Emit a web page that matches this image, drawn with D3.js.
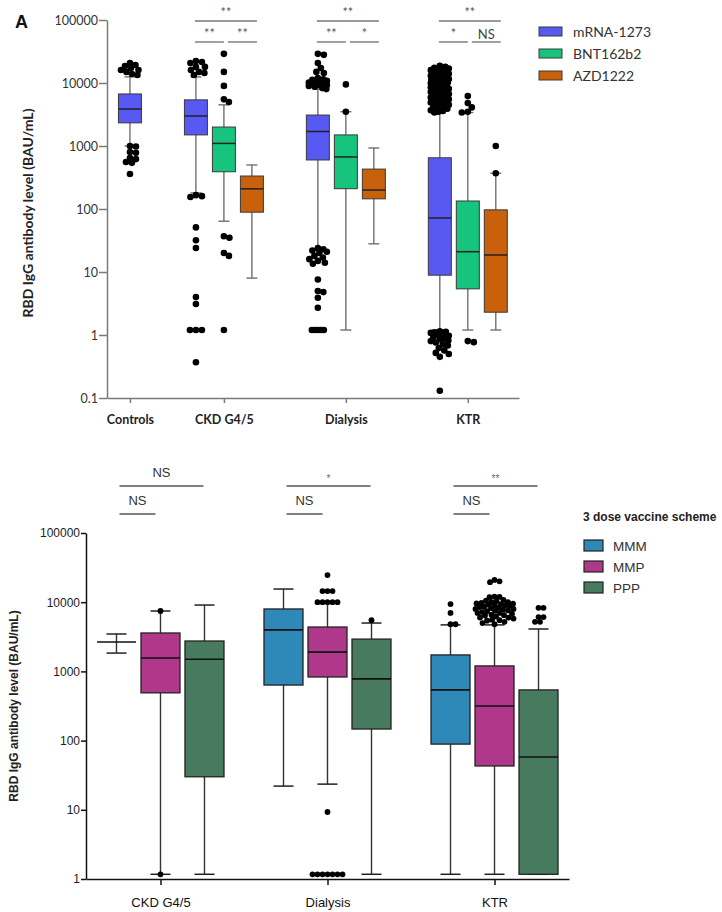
<!DOCTYPE html>
<html><head><meta charset="utf-8">
<script src="https://cdn.jsdelivr.net/npm/d3@7"></script>
<style>body{margin:0;background:#fff}svg{display:block}</style>
</head><body>
<svg id="c" width="722" height="912"></svg>
<script>
// ---------------- DATA : panel A ----------------
const topGroups = ["Controls", "CKD G4/5", "Dialysis", "KTR"];
const topVaccines = ["mRNA-1273", "BNT162b2", "AZD1222"];
const topColors = ["#5858f2", "#16c47d", "#c8600c"];
const topTicks = [0.1, 1, 10, 100, 1000, 10000, 100000];
const topTickLabels = ["0.1", "1", "10", "100", "1000", "10000", "100000"];
const topBoxGroup = ["Controls", "CKD G4/5", "CKD G4/5", "CKD G4/5", "Dialysis", "Dialysis", "Dialysis", "KTR", "KTR", "KTR"];
const topBoxVaccine = ["mRNA-1273", "mRNA-1273", "BNT162b2", "AZD1222", "mRNA-1273", "BNT162b2", "AZD1222", "mRNA-1273", "BNT162b2", "AZD1222"];
const topLow  = [1000, 180, 64, 8.0, 22, 1.2, 28, 1.2, 1.2, 1.2];
const topQ1   = [2330, 1500, 390, 89, 600, 210, 145, 8.9, 5.4, 2.3];
const topMed  = [3860, 2990, 1100, 209, 1700, 670, 200, 72, 21, 18.6];
const topQ3   = [6700, 5400, 2000, 334, 3100, 1500, 430, 650, 134, 97];
const topHigh = [12500, 12500, 4500, 500, 8000, 3500, 930, 3300, 3400, 370];
const topOutliers = [
  [20700, 19300, 18600, 17300, 16100, 16100, 15000, 13900, 13400, 1000, 980, 800, 780, 645, 620, 557, 540, 360],
  [22300, 21500, 20700, 18000, 18000, 16100, 15000, 14400, 13400, 166, 160, 155, 51, 32, 24, 4.0, 3.1, 1.2, 1.2, 1.2, 0.37],
  [29000, 15000, 9000, 5500, 5000, 37, 35, 20, 18, 1.2],
  [],
  [29000, 28000, 20700, 17300, 15000, 14400, 12000, 11500, 11200, 10800, 10500, 10200, 10000, 9800, 9500, 9300, 9300, 9000, 8700, 8300, 8000,
   24, 23, 22, 21, 20, 18, 17, 16, 15, 14, 13.5, 7.6, 5.0, 4.8, 3.9, 2.7, 1.2, 1.2, 1.2, 1.2, 1.2],
  [9500, 3500],
  [],
  [18800, 18000, 17500, 17000, 16500, 16000, 15500, 15000, 14500, 14200, 14000, 13500, 13000, 12800, 12500, 12000, 11600, 11200, 11000, 10800,
   10500, 10200, 10000, 9900, 9700, 9400, 9100, 9000, 8800, 8500, 8200, 8100, 8000, 7700, 7500, 7400, 7200, 7000, 6800, 6700, 6500, 6300,
   6100, 6000, 5900, 5700, 5500, 5400, 5300, 5100, 4900, 4800, 4700, 4500, 4400, 4300, 4100, 4000, 3900, 3700, 3600, 3500, 3400,
   1.15, 1.12, 1.1, 1.08, 1.05, 1.0, 0.97, 0.93, 0.9, 0.86, 0.82, 0.8, 0.76, 0.72, 0.68, 0.62, 0.57, 0.52, 0.5, 0.45, 0.13],
  [6200, 4800, 4100, 3500, 3400, 0.8, 0.77],
  [1000, 370]
];
// significance: [group, first box, last box, row, label]
const topSig = [
  ["CKD G4/5", 0, 2, 0, "**"], ["CKD G4/5", 0, 1, 1, "**"], ["CKD G4/5", 1, 2, 1, "**"],
  ["Dialysis", 0, 2, 0, "**"], ["Dialysis", 0, 1, 1, "**"], ["Dialysis", 1, 2, 1, "*"],
  ["KTR", 0, 2, 0, "**"], ["KTR", 0, 1, 1, "*"], ["KTR", 1, 2, 1, "NS"]
];

// ---------------- DATA : 3-dose panel ----------------
const botGroups = ["CKD G4/5", "Dialysis", "KTR"];
const botSchemes = ["MMM", "MMP", "PPP"];
const botColors = ["#2e89b9", "#b0388a", "#487a60"];
const botTicks = [1, 10, 100, 1000, 10000, 100000];
const botTickLabels = ["1", "10", "100", "1000", "10000", "100000"];
const botBoxGroup = ["CKD G4/5", "CKD G4/5", "CKD G4/5", "Dialysis", "Dialysis", "Dialysis", "KTR", "KTR", "KTR"];
const botBoxScheme = ["MMM", "MMP", "PPP", "MMM", "MMP", "PPP", "MMM", "MMP", "PPP"];
const botLow  = [1840, 1.17, 1.17, 22, 23.5, 1.17, 1.17, 1.17, 1.17];
const botQ1   = [2660, 490, 30, 635, 830, 147, 89, 43, 1.17];
const botMed  = [2660, 1560, 1500, 3980, 1900, 780, 540, 316, 58];
const botQ3   = [2660, 3590, 2750, 7980, 4380, 2930, 1730, 1200, 540];
const botHigh = [3470, 7460, 9100, 15500, 10000, 5000, 4700, 4700, 4100];
const botOutliers = [
  [],
  [7460, 1.17],
  [],
  [],
  [24700, 14500, 14500, 14500, 10000, 10000, 10000, 10000, 10000, 9.3, 1.17, 1.17, 1.17, 1.17, 1.17, 1.17, 1.17],
  [5500],
  [9400, 7000, 4800, 4800],
  [21000, 20000, 19500, 12000, 11900, 11800, 10800, 10500, 10300, 10000, 10000, 9800, 9600, 9500, 9400, 9200, 9000, 9000, 8800, 8600,
   8500, 8400, 8200, 8000, 8000, 7800, 7600, 7500, 7400, 7200, 7000, 7000, 6800, 6600, 6500, 6400, 6200, 6000, 6000, 5800, 5600,
   5500, 5400, 5200, 5000, 4800],
  [8300, 8300, 6100, 6100, 5200, 5200]
];
const botSig = [
  ["CKD G4/5", 0, 2, 0, "NS"], ["CKD G4/5", 0, 1, 1, "NS"],
  ["Dialysis", 0, 2, 0, "*"], ["Dialysis", 0, 1, 1, "NS"],
  ["KTR", 0, 2, 0, "**"], ["KTR", 0, 1, 1, "NS"]
];

// ---------------- helpers ----------------
const svg = d3.select("#c");
function swarm(vals, y, r, maxHalf) {
  const pts = vals.map(v => ({v, y: y(v)})).sort((a, b) => a.y - b.y);
  const placed = [];
  const minD = 2 * r * 0.85;
  pts.forEach(p => {
    let chosen = null, bestScore = -1, bestOff = 0;
    for (let k = 0; ; k++) {
      const off = (k % 2 === 1 ? 1 : -1) * Math.ceil(k / 2) * 0.5;
      if (Math.abs(off) > maxHalf) break;
      let md = Infinity;
      for (const q of placed) { const d = Math.hypot(q.dx - off, q.y - p.y); if (d < md) md = d; }
      if (md >= minD) { chosen = off; break; }
      if (md > bestScore) { bestScore = md; bestOff = off; }
    }
    p.dx = chosen === null ? bestOff : chosen;
    placed.push(p);
  });
  return placed;
}

// ================= PANEL A =================
const TF = "Lato, 'Open Sans', sans-serif";
const yTop = d3.scaleLog().domain([0.1, 100000]).range([398, 20]);
const topPos = topBoxGroup.map((g, i) => i + topGroups.indexOf(g) * 1.357);
const xTop = d3.scaleLinear().domain([-0.82, 13.9]).range([107, 519]);
const topGroupPos = topGroups.map(g => d3.mean(topPos.filter((p, i) => topBoxGroup[i] === g)));
const topBW = 23, topCap = 11;

const gA = svg.append("g");
const yAxA = gA.append("g").attr("transform", "translate(107,0)")
  .call(d3.axisLeft(yTop).tickValues(topTicks).tickFormat((d, i) => topTickLabels[i]).tickSize(8).tickSizeOuter(0).tickPadding(1));
yAxA.selectAll("path,line").attr("stroke", "#7a7a7a").attr("stroke-width", 1.5);
yAxA.selectAll("text").attr("font-family", TF).attr("font-size", 12.5).attr("fill", "#333");
const xAxA = gA.append("g").attr("transform", "translate(0,398)")
  .call(d3.axisBottom(xTop).tickValues(topGroupPos).tickFormat((d, i) => topGroups[i]).tickSize(5).tickSizeOuter(0));
xAxA.selectAll("path,line").attr("stroke", "#7a7a7a").attr("stroke-width", 1.5);
xAxA.selectAll("text").attr("font-family", TF).attr("font-weight", "bold").attr("font-size", 12.5)
  .attr("fill", "#222").attr("y", 26).attr("dy", 0);

topPos.forEach((p, i) => {
  const cx = xTop(p), col = topColors[topVaccines.indexOf(topBoxVaccine[i])];
  const g = gA.append("g");
  g.append("line").attr("x1", cx).attr("x2", cx).attr("y1", yTop(topHigh[i])).attr("y2", yTop(topLow[i]))
    .attr("stroke", "#666").attr("stroke-width", 1.3);
  [topHigh[i], topLow[i]].forEach(v => g.append("line").attr("x1", cx - topCap / 2).attr("x2", cx + topCap / 2)
    .attr("y1", yTop(v)).attr("y2", yTop(v)).attr("stroke", "#666").attr("stroke-width", 1.3));
  g.append("rect").attr("x", cx - topBW / 2).attr("width", topBW).attr("y", yTop(topQ3[i]))
    .attr("height", yTop(topQ1[i]) - yTop(topQ3[i])).attr("fill", col).attr("stroke", "#3a3a3a").attr("stroke-width", 1);
  g.append("line").attr("x1", cx - topBW / 2).attr("x2", cx + topBW / 2).attr("y1", yTop(topMed[i])).attr("y2", yTop(topMed[i]))
    .attr("stroke", "#222").attr("stroke-width", 1.5);
  swarm(topOutliers[i], yTop, 3.3, 9).forEach(d => g.append("circle").attr("cx", cx + d.dx).attr("cy", d.y).attr("r", 3.3).attr("fill", "#000"));
});

const topRowY = [21, 42];
topSig.forEach(([g, a, b, row, lab]) => {
  const idx = topBoxGroup.map((gg, i) => gg === g ? i : -1).filter(i => i >= 0);
  const xa = xTop(topPos[idx[a]]), xb = xTop(topPos[idx[b]]);
  let x1, x2;
  if (row === 0) { x1 = xa - 1; x2 = xb + 5; }
  else if (a === 0) { x1 = xa - 1; x2 = xb; }
  else { x1 = xa + 4; x2 = xb + 5; }
  gA.append("line").attr("x1", x1).attr("x2", x2).attr("y1", topRowY[row]).attr("y2", topRowY[row])
    .attr("stroke", "#777").attr("stroke-width", 1.4);
  const isNS = lab === "NS";
  gA.append("text").attr("x", (x1 + x2) / 2).attr("y", topRowY[row] - (isNS ? 3 : 4))
    .attr("text-anchor", "middle").attr("font-family", TF).attr("font-size", isNS ? 13 : 12.5)
    .attr("fill", isNS ? "#444" : "#555").text(lab);
});

topVaccines.forEach((v, i) => {
  gA.append("rect").attr("x", 539).attr("y", 27 + i * 22).attr("width", 23).attr("height", 9)
    .attr("fill", topColors[i]).attr("stroke", "#3a3a3a").attr("stroke-width", 1);
  gA.append("text").attr("x", 573).attr("y", 37 + i * 22).attr("font-family", TF).attr("font-size", 14)
    .attr("fill", "#333").text(v);
});
gA.append("text").attr("x", 15).attr("y", 28).attr("font-family", "'Liberation Sans', Arial, sans-serif")
  .attr("font-weight", "bold").attr("font-size", 18).attr("fill", "#111").text("A");
gA.append("text").attr("transform", "translate(33,213) rotate(-90)").attr("text-anchor", "middle")
  .attr("font-family", TF).attr("font-weight", "bold").attr("font-size", 14).attr("fill", "#222")
  .text("RBD IgG antibody level (BAU/mL)");

// ================= PANEL B =================
const BF = "'Liberation Sans', Arial, sans-serif";
const yBot = d3.scaleLog().domain([1, 100000]).range([879, 533]);
const xBotG = d3.scalePoint().domain(botGroups).range([86, 569]).padding(0.446);
const xBotS = d3.scalePoint().domain(botSchemes).range([-44, 44]);
const botBW = 39, botCap = 20;
const gB = svg.append("g");

const yAxB = gB.append("g").attr("transform", "translate(86,0)")
  .call(d3.axisLeft(yBot).tickValues(botTicks).tickFormat((d, i) => botTickLabels[i]).tickSize(5).tickSizeOuter(0).tickPadding(1));
yAxB.selectAll("path,line").attr("stroke", "#111").attr("stroke-width", 1.5);
yAxB.selectAll("text").attr("font-family", BF).attr("font-size", 12).attr("fill", "#222");
const xAxB = gB.append("g").attr("transform", "translate(0,879)")
  .call(d3.axisBottom(xBotG).tickSize(6).tickSizeOuter(0));
xAxB.selectAll("path,line").attr("stroke", "#111").attr("stroke-width", 1.5);
xAxB.selectAll("text").attr("font-family", BF).attr("font-size", 13).attr("fill", "#111").attr("y", 28).attr("dy", 0);

botBoxGroup.forEach((g, i) => {
  const cx = xBotG(g) + xBotS(botBoxScheme[i]), col = botColors[botSchemes.indexOf(botBoxScheme[i])];
  const gg = gB.append("g");
  gg.append("line").attr("x1", cx).attr("x2", cx).attr("y1", yBot(botHigh[i])).attr("y2", yBot(botLow[i]))
    .attr("stroke", "#333").attr("stroke-width", 1.4);
  [botHigh[i], botLow[i]].forEach(v => gg.append("line").attr("x1", cx - botCap / 2).attr("x2", cx + botCap / 2)
    .attr("y1", yBot(v)).attr("y2", yBot(v)).attr("stroke", "#222").attr("stroke-width", 1.5));
  gg.append("rect").attr("x", cx - botBW / 2).attr("width", botBW).attr("y", yBot(botQ3[i]))
    .attr("height", yBot(botQ1[i]) - yBot(botQ3[i])).attr("fill", col).attr("stroke", "#222").attr("stroke-width", 1.3);
  gg.append("line").attr("x1", cx - botBW / 2).attr("x2", cx + botBW / 2).attr("y1", yBot(botMed[i])).attr("y2", yBot(botMed[i]))
    .attr("stroke", "#111").attr("stroke-width", 1.6);
  swarm(botOutliers[i], yBot, 2.9, 19).forEach(d => gg.append("circle").attr("cx", cx + d.dx).attr("cy", d.y).attr("r", 2.9).attr("fill", "#000"));
});

const botRowY = [486, 514];
botSig.forEach(([g, a, b, row, lab]) => {
  const xa = xBotG(g) + xBotS(botSchemes[a]), xb = xBotG(g) + xBotS(botSchemes[b]);
  const x1 = xa + 3, x2 = row === 0 ? xb - 1 : xb - 5;
  gB.append("line").attr("x1", x1).attr("x2", x2).attr("y1", botRowY[row]).attr("y2", botRowY[row])
    .attr("stroke", "#555").attr("stroke-width", 1.5);
  const isNS = lab === "NS";
  gB.append("text").attr("x", (x1 + x2) / 2).attr("y", botRowY[row] - (isNS ? 9 : 4))
    .attr("text-anchor", "middle").attr("font-family", BF).attr("font-size", isNS ? 13 : 10)
    .attr("fill", isNS ? "#333" : "#666").text(lab);
});

gB.append("text").attr("x", 583).attr("y", 521).attr("font-family", BF).attr("font-weight", "bold")
  .attr("font-size", 12).attr("fill", "#222").text("3 dose vaccine scheme");
botSchemes.forEach((s, i) => {
  gB.append("rect").attr("x", 584).attr("y", 540 + i * 21).attr("width", 19).attr("height", 11)
    .attr("fill", botColors[i]).attr("stroke", "#222").attr("stroke-width", 1.2);
  gB.append("text").attr("x", 613).attr("y", 551 + i * 21).attr("font-family", BF).attr("font-size", 13.5)
    .attr("fill", "#333").text(s);
});
gB.append("text").attr("transform", "translate(18,706) rotate(-90)").attr("text-anchor", "middle")
  .attr("font-family", BF).attr("font-weight", "bold").attr("font-size", 12).attr("fill", "#222")
  .text("RBD IgG antibody level (BAU/mL)");
</script>
</body></html>
